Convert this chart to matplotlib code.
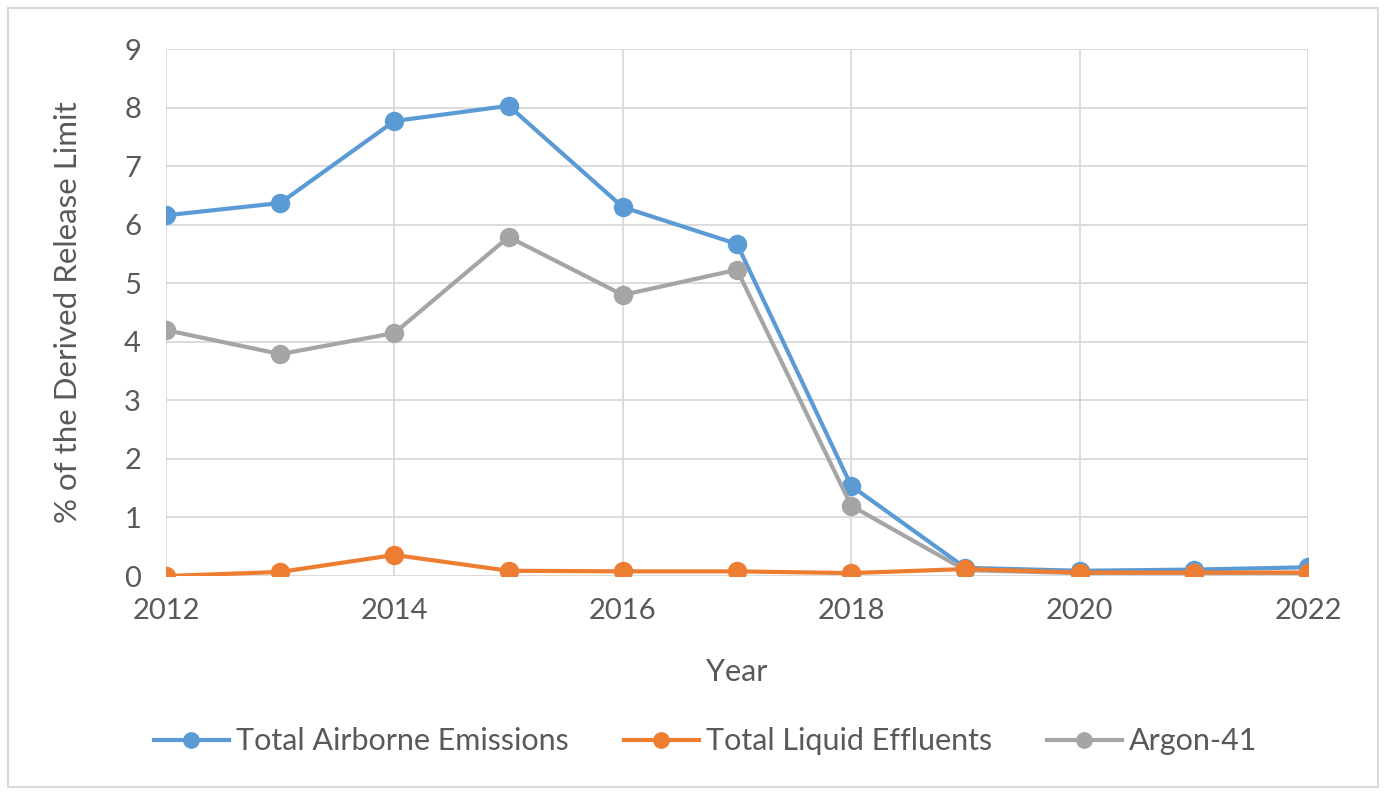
import matplotlib.pyplot as plt
from matplotlib.patches import Rectangle

plt.rcParams['font.family'] = ['Lato', 'DejaVu Sans']

years = [2012, 2013, 2014, 2015, 2016, 2017, 2018, 2019, 2020, 2021, 2022]
airborne = [6.16, 6.37, 7.77, 8.03, 6.30, 5.67, 1.54, 0.14, 0.09, 0.11, 0.15]
liquid = [0.0, 0.07, 0.36, 0.09, 0.08, 0.08, 0.05, 0.12, 0.06, 0.06, 0.06]
argon = [4.20, 3.79, 4.15, 5.79, 4.80, 5.23, 1.20, 0.10, 0.05, 0.05, 0.05]

TEXT = "#595959"
GRID = "#d9d9d9"

fig = plt.figure(figsize=(13.86, 7.93), dpi=100)
ax = fig.add_axes([0.1198, 0.2736, 0.8239, 0.6646])

# chart border like the Excel frame
fig.patches.append(Rectangle((0.006, 0.008), 0.988, 0.982, transform=fig.transFigure,
                             fill=False, edgecolor=GRID, lw=1.5))

ax.plot(years, airborne, color="#5b9bd5", lw=3, marker="o", ms=13, label="Total Airborne Emissions", zorder=3)
ax.plot(years, liquid, color="#ed7d31", lw=3, marker="o", ms=13, label="Total Liquid Effluents", zorder=5)
ax.plot(years, argon, color="#a5a5a5", lw=3, marker="o", ms=13, label="Argon-41", zorder=4)

ax.set_xlim(2012, 2022)
ax.set_ylim(0, 9)
ax.set_xticks(range(2012, 2023, 2))
ax.set_yticks(range(0, 10))
ax.grid(True, color=GRID, lw=1.3)
ax.set_axisbelow(True)
for s in ax.spines.values():
    s.set_visible(False)
ax.tick_params(length=0, labelsize=21, labelcolor=TEXT)
ax.tick_params(axis="x", pad=16)
ax.tick_params(axis="y", pad=18)

ax.set_xlabel("Year", fontsize=22, color=TEXT, labelpad=24)
ax.set_ylabel("% of the Derived Release Limit", fontsize=22.5, color=TEXT, labelpad=30)

fig.legend(loc="center", bbox_to_anchor=(0.509, 0.065), ncol=3, frameon=False,
           fontsize=22, labelcolor=TEXT, handlelength=2.45, handletextpad=0.23,
           columnspacing=1.8, markerscale=0.85)

fig.savefig("out.png", dpi=100)
